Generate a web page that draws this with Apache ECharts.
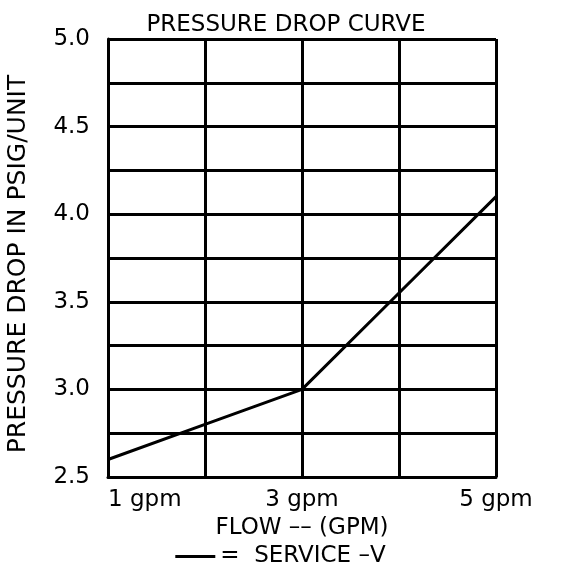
<!DOCTYPE html>
<html>
<head>
<meta charset="utf-8">
<script src="https://cdn.jsdelivr.net/npm/echarts@6/dist/echarts.min.js"></script>
<style>
  html, body { margin: 0; padding: 0; background: #fff; }
  #chart { width: 561px; height: 587px; }
</style>
</head>
<body>
<div id="chart"></div>
<script>
// Flow (gpm) and pressure drop (psig/unit)
const flowGpm = [1, 2, 3, 4, 5];
const pressureDrop = [2.6, 2.8, 3.0, 3.55, 4.1];
const xTickLabels = [1, 3, 5];
const yTickLabels = [2.5, 3.0, 3.5, 4.0, 4.5, 5.0];

const font = 'DejaVu Sans';
const chart = echarts.init(document.getElementById('chart'));

chart.setOption({
    animation: false,
    backgroundColor: '#fff',
    title: {
        text: 'PRESSURE DROP CURVE',
        left: 281,
        textAlign: 'center',
        top: 9,
        textStyle: { fontFamily: font, fontSize: 23, fontWeight: 'normal', color: '#000' }
    },
    grid: { left: 108, right: 65, top: 39, bottom: 110, outerBoundsMode: 'none' },
    legend: {
        bottom: 14,
        left: 'center',
        itemWidth: 40,
        itemHeight: 3,
        itemGap: 12,
        formatter: '=  {name}',
        textStyle: { fontFamily: font, fontSize: 23, color: '#000' },
        data: [{ name: 'SERVICE \u2013V', icon: 'rect' }]
    },
    xAxis: {
        type: 'value',
        min: 1,
        max: 5,
        interval: 1,
        name: 'FLOW \u2013\u2013 (GPM)',
        nameLocation: 'middle',
        nameGap: 38,
        nameTextStyle: { fontFamily: font, fontSize: 23, color: '#000' },
        axisLine: { lineStyle: { color: '#000', width: 3 } },
        axisTick: { show: false },
        splitLine: { lineStyle: { color: '#000', width: 3 } },
        axisLabel: {
            margin: 12,
            fontFamily: font,
            fontSize: 23,
            color: '#000',
            alignMinLabel: 'left',
            formatter: v => xTickLabels.includes(v) ? v + ' gpm' : ''
        }
    },
    yAxis: {
        type: 'value',
        min: 2.5,
        max: 5.0,
        interval: 0.25,
        name: 'PRESSURE DROP IN PSIG/UNIT',
        nameLocation: 'middle',
        nameGap: 77,
        nameTextStyle: { fontFamily: font, fontSize: 25, color: '#000', padding: [0, 12, 0, 0] },
        axisLine: { show: true, lineStyle: { color: '#000', width: 3 } },
        axisTick: { show: false },
        splitLine: { lineStyle: { color: '#000', width: 3 } },
        axisLabel: {
            margin: 18,
            fontFamily: font,
            fontSize: 23,
            color: '#000',
            formatter: v => {
                const hit = yTickLabels.find(t => Math.abs(t - v) < 1e-6);
                return hit !== undefined ? hit.toFixed(1) : '';
            }
        }
    },
    series: [{
        name: 'SERVICE \u2013V',
        type: 'line',
        data: flowGpm.map((x, i) => [x, pressureDrop[i]]),
        symbol: 'none',
        lineStyle: { color: '#000', width: 3 },
        itemStyle: { color: '#000' }
    }]
});
</script>
</body>
</html>
